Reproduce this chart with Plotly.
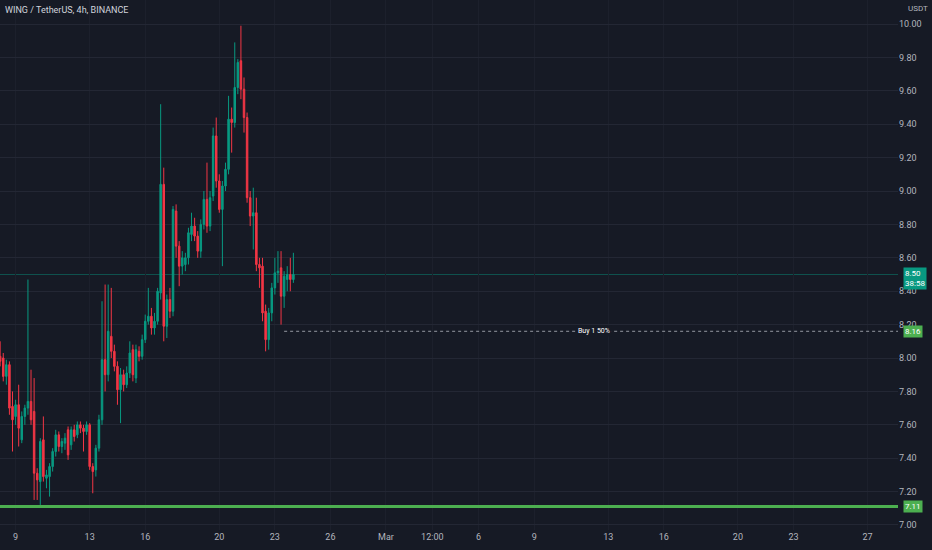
import plotly.graph_objects as go
import pandas as pd
from datetime import datetime, timedelta

# ---- data (4h candles, WING / TetherUS) ----
opens = [8.01, 8.00, 7.89, 7.96, 7.71, 7.65, 7.72, 7.51, 7.65, 7.70,
         7.74, 7.68, 7.31, 7.26, 7.51, 7.28, 7.29, 7.35, 7.44, 7.54,
         7.47, 7.49, 7.57, 7.48, 7.57, 7.54, 7.60, 7.58, 7.56, 7.60,
         7.35, 7.33, 7.46, 7.63, 7.99, 7.90, 8.13, 8.04, 7.95, 7.81,
         7.90, 7.84, 7.91, 8.05, 7.88, 8.04, 8.01, 8.11, 8.22, 8.25,
         8.18, 8.22, 8.39, 9.04, 8.19, 8.35, 8.28, 8.88, 8.67, 8.55,
         8.56, 8.60, 8.74, 8.79, 8.73, 8.64, 8.80, 8.95, 8.79, 8.97,
         9.33, 9.06, 8.89, 9.03, 9.13, 9.43, 9.41, 9.62, 9.78, 9.61,
         9.44, 8.96, 8.85, 8.87, 8.56, 8.55, 8.28, 8.11, 8.27, 8.42,
         8.51, 8.54, 8.37, 8.47, 8.50, 8.47]
highs = [8.10, 8.03, 7.99, 7.98, 7.80, 7.75, 7.84, 7.68, 7.72, 8.47,
         7.93, 7.88, 7.34, 7.52, 7.65, 7.33, 7.37, 7.46, 7.57, 7.56,
         7.52, 7.55, 7.59, 7.59, 7.60, 7.62, 7.62, 7.60, 7.62, 7.61,
         7.37, 7.48, 7.66, 8.34, 8.44, 8.44, 8.42, 8.08, 7.98, 7.94,
         7.93, 7.95, 8.10, 8.08, 8.08, 8.07, 8.14, 8.26, 8.42, 8.30,
         8.27, 8.42, 9.52, 9.14, 8.38, 8.42, 8.91, 8.92, 8.70, 8.64,
         8.63, 8.78, 8.87, 8.84, 8.76, 8.83, 9.00, 9.17, 9.00, 9.38,
         9.44, 9.10, 9.06, 9.17, 9.57, 9.50, 9.89, 9.79, 9.99, 9.68,
         9.47, 9.00, 9.02, 8.96, 8.60, 8.60, 8.32, 8.30, 8.45, 8.60,
         8.64, 8.64, 8.52, 8.55, 8.60, 8.63]
lows = [7.95, 7.86, 7.84, 7.66, 7.44, 7.60, 7.47, 7.49, 7.60, 7.66,
        7.60, 7.15, 7.15, 7.12, 7.26, 7.22, 7.17, 7.32, 7.41, 7.44,
        7.43, 7.45, 7.39, 7.45, 7.50, 7.52, 7.55, 7.44, 7.54, 7.33,
        7.19, 7.29, 7.44, 7.60, 7.80, 7.86, 8.00, 7.92, 7.72, 7.61,
        7.80, 7.82, 7.88, 7.86, 7.85, 7.98, 7.99, 8.09, 8.20, 8.14,
        8.14, 8.20, 8.35, 8.10, 8.12, 8.24, 8.25, 8.60, 8.43, 8.50,
        8.52, 8.56, 8.70, 8.70, 8.60, 8.60, 8.77, 8.75, 8.76, 8.94,
        9.02, 8.87, 8.55, 9.00, 9.10, 9.23, 9.38, 9.58, 9.55, 9.35,
        8.93, 8.79, 8.65, 8.52, 8.42, 8.22, 8.04, 8.05, 8.22, 8.38,
        8.45, 8.20, 8.30, 8.40, 8.40, 8.45]
closes = [7.98, 7.89, 7.96, 7.70, 7.63, 7.72, 7.58, 7.65, 7.70, 7.74,
          7.63, 7.31, 7.27, 7.50, 7.29, 7.30, 7.35, 7.44, 7.54, 7.47,
          7.50, 7.52, 7.42, 7.57, 7.53, 7.60, 7.58, 7.56, 7.60, 7.35,
          7.32, 7.46, 7.63, 7.99, 7.90, 8.16, 8.04, 7.95, 7.81, 7.90,
          7.84, 7.91, 8.03, 7.90, 8.05, 8.01, 8.11, 8.22, 8.25, 8.18,
          8.22, 8.40, 9.04, 8.19, 8.35, 8.28, 8.89, 8.67, 8.55, 8.60,
          8.60, 8.75, 8.79, 8.73, 8.64, 8.80, 8.95, 8.79, 8.96, 9.33,
          9.06, 8.89, 9.03, 9.13, 9.43, 9.41, 9.62, 9.77, 9.61, 9.44,
          8.96, 8.85, 8.87, 8.56, 8.54, 8.27, 8.11, 8.27, 8.42, 8.51,
          8.52, 8.37, 8.49, 8.50, 8.47, 8.50]
first_candle = "2023-02-08 04:00"
times = pd.date_range(first_candle, periods=len(opens), freq="4h")

tick_dates = ["2023-02-09", "2023-02-13", "2023-02-16", "2023-02-20", "2023-02-23",
              "2023-02-26", "2023-03-01", "2023-03-03 12:00", "2023-03-06", "2023-03-09",
              "2023-03-13", "2023-03-16", "2023-03-20", "2023-03-23", "2023-03-27"]
tick_labels = ["9", "13", "16", "20", "23", "26", "Mar", "12:00", "6", "9",
               "13", "16", "20", "23", "27"]
price_ticks = [7.00, 7.20, 7.40, 7.60, 7.80, 8.00, 8.20, 8.40, 8.60, 8.80,
               9.00, 9.20, 9.40, 9.60, 9.80, 10.00]

last_price = 8.50
countdown = "38:58"
buy_level = 8.16
buy_label = "Buy 1 50%"
buy_start = "2023-02-23 12:00"
support_level = 7.11
title_text = "WING / TetherUS, 4h, BINANCE"
currency = "USDT"

# ---- styling ----
BG = "#161a25"
UP = "#089981"
DOWN = "#f23645"
GREEN = "#4caf50"
TXT = "#b2b5be"
FONT = "Roboto"

mar1 = datetime(2023, 3, 1)
x_start = mar1 - timedelta(days=20.842)
x_end = mar1 + timedelta(days=27.646)

fig = go.Figure()
fig.add_trace(go.Candlestick(
    x=times, open=opens, high=highs, low=lows, close=closes,
    increasing=dict(line=dict(color=UP, width=1), fillcolor=UP),
    decreasing=dict(line=dict(color=DOWN, width=1), fillcolor=DOWN),
    whiskerwidth=0, showlegend=False, hoverinfo="skip",
))

shapes = [
    # current price line
    dict(type="line", xref="paper", x0=0, x1=1, yref="y", y0=last_price, y1=last_price,
         line=dict(color="rgba(8,153,129,0.45)", width=1), layer="below"),
    # buy order dashed line
    dict(type="line", xref="x", x0=buy_start, x1=x_end, yref="y", y0=buy_level, y1=buy_level,
         line=dict(color="#9598a1", width=1, dash="3px,3px")),
    # support line
    dict(type="line", xref="paper", x0=0, x1=1, yref="y", y0=support_level, y1=support_level,
         line=dict(color=GREEN, width=3)),
]

annotations = [
    dict(text=title_text, xref="paper", yref="paper", x=0, y=1, xanchor="left", yanchor="top",
         xshift=3, yshift=-3, showarrow=False, font=dict(family=FONT, size=9, color="#d1d4dc")),
    dict(text=currency, xref="paper", yref="paper", x=1, y=1, xanchor="left", yanchor="top",
         xshift=8, yshift=-2, showarrow=False, font=dict(family=FONT, size=8, color=TXT)),
    dict(text=f"{last_price:.2f}<br>{countdown}", xref="paper", yref="y", x=1, y=last_price,
         xanchor="left", yanchor="top", xshift=5, yshift=8, showarrow=False, align="left",
         bgcolor=UP, borderpad=1, font=dict(family=FONT, size=8, color="#ffffff")),
    dict(text=f"{buy_level:.2f}", xref="paper", yref="y", x=1, y=buy_level,
         xanchor="left", yanchor="middle", xshift=5, showarrow=False,
         bgcolor=GREEN, borderpad=1, font=dict(family=FONT, size=8, color="#ffffff")),
    dict(text=f"{support_level:.2f}", xref="paper", yref="y", x=1, y=support_level,
         xanchor="left", yanchor="middle", xshift=5, showarrow=False,
         bgcolor=GREEN, borderpad=1, font=dict(family=FONT, size=8, color="#ffffff")),
    dict(text=buy_label, xref="paper", yref="y", x=0.6615, y=buy_level,
         xanchor="center", yanchor="middle", showarrow=False, bgcolor=BG, borderpad=1,
         font=dict(family=FONT, size=7, color="#ffffff")),
]

fig.update_layout(
    width=932, height=550,
    margin=dict(l=0, r=34, t=0, b=20),
    paper_bgcolor=BG, plot_bgcolor=BG,
    font=dict(family=FONT, color=TXT, size=9),
    shapes=shapes, annotations=annotations,
    xaxis=dict(type="date", range=[x_start, x_end], tickvals=tick_dates, ticktext=tick_labels,
               showgrid=True, gridcolor="#1c202c", gridwidth=1, zeroline=False, showline=False,
               ticks="", tickfont=dict(family=FONT, size=9, color=TXT),
               rangeslider=dict(visible=False), fixedrange=True),
    yaxis=dict(side="right", range=[6.970, 10.144], tickvals=price_ticks, tickformat=".2f",
               showgrid=True, gridcolor="#232734", gridwidth=1, zeroline=False, showline=False,
               ticks="", tickfont=dict(family=FONT, size=9, color=TXT), fixedrange=True),
)

fig.write_html(
    "out.html",
    config={"displayModeBar": False},
    post_script="document.body.style.margin='0';document.body.style.background='#161a25';",
)
